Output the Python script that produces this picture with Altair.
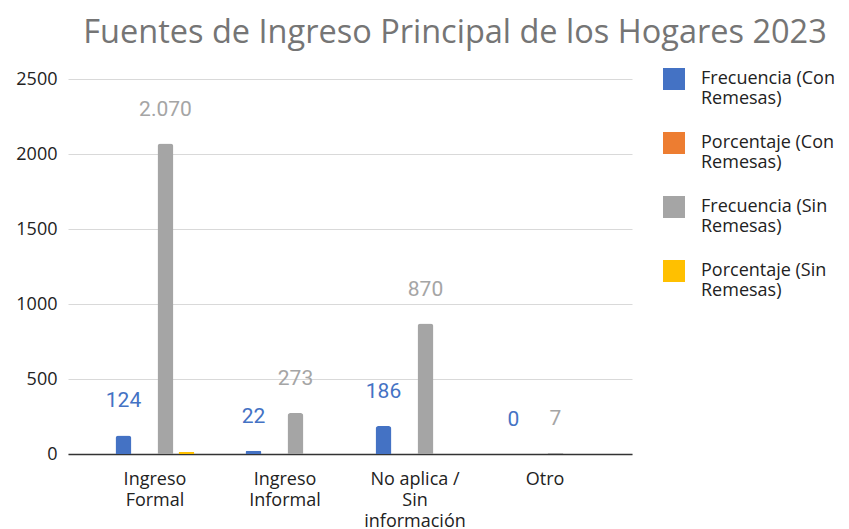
import altair as alt
import pandas as pd

categories = ["Ingreso Formal", "Ingreso Informal", "No aplica / Sin información", "Otro"]
series = ["Frecuencia (Con Remesas)", "Porcentaje (Con Remesas)",
          "Frecuencia (Sin Remesas)", "Porcentaje (Sin Remesas)"]
colors = ["#4472C4", "#ED7D31", "#A5A5A5", "#FFC000"]

freq_con = [124, 22, 186, 0]
pct_con = [0.37, 0.07, 0.56, 0.0]
freq_sin = [2070, 273, 870, 7]
pct_sin = [13, 0, 0, 0]

labels_con = ["124", "22", "186", "0"]
labels_sin = ["2.070", "273", "870", "7"]

rows = []
for i, c in enumerate(categories):
    rows.append({"cat": c, "serie": series[0], "valor": freq_con[i], "etiqueta": labels_con[i]})
    rows.append({"cat": c, "serie": series[1], "valor": pct_con[i], "etiqueta": ""})
    rows.append({"cat": c, "serie": series[2], "valor": freq_sin[i], "etiqueta": labels_sin[i]})
    rows.append({"cat": c, "serie": series[3], "valor": pct_sin[i], "etiqueta": ""})
df = pd.DataFrame(rows)

FONT = "Open Sans"

x = alt.X("cat:N", sort=categories, title=None,
          scale=alt.Scale(paddingInner=0.354, paddingOuter=0.346),
          axis=alt.Axis(
              labelAngle=0, labelFont=FONT, labelFontSize=18, labelColor="#222222",
              labelLineHeight=21, labelPadding=16, ticks=False,
              domainColor="#333333", domainWidth=1.5, labelLimit=200,
              labelExpr="datum.value == 'No aplica / Sin información' ? ['No aplica /', 'Sin', 'información'] : split(datum.value, ' ')"))
xo = alt.XOffset("serie:N", sort=series,
                 scale=alt.Scale(paddingInner=0.24, paddingOuter=0.12))
y = alt.Y("valor:Q", title=None,
          scale=alt.Scale(domain=[0, 2500]),
          axis=alt.Axis(values=[0, 500, 1000, 1500, 2000, 2500], format="d", labelFont=FONT,
                        labelFontSize=18, labelColor="#222222", ticks=False,
                        domain=False, labelPadding=11, gridColor="#D9D9D9"))

bars = alt.Chart(df).mark_bar(cornerRadiusTopLeft=3, cornerRadiusTopRight=3).encode(
    x=x, xOffset=xo, y=y,
    color=alt.Color("serie:N", sort=series, title=None,
                    scale=alt.Scale(domain=series, range=colors),
                    legend=alt.Legend(
                        orient="none", legendX=595, legendY=-11,
                        symbolType="square", symbolSize=484, symbolStrokeWidth=0,
                        symbolOpacity=1, labelFont=FONT, labelFontSize=18,
                        labelColor="#222222", labelOffset=16, labelLimit=220,
                        labelBaseline="middle", rowPadding=24, padding=0, offset=0,
                        labelExpr="[replace(datum.label, ' Remesas)', ''), 'Remesas)']")),
)

text = alt.Chart(df).mark_text(font="Roboto", fontSize=21, baseline="middle", dy=-34).encode(
    x=x, xOffset=xo, y=y,
    text="etiqueta:N",
    color=alt.Color("serie:N", sort=series, scale=alt.Scale(domain=series, range=colors), legend=None),
)

chart = alt.layer(bars, text).properties(
    width=564, height=375,
    title=alt.TitleParams("Fuentes de Ingreso Principal de los Hogares 2023",
                          font=FONT, fontSize=32.5, fontWeight="normal", color="#757575",
                          anchor="middle", frame="group", dx=105, offset=19),
    autosize=alt.AutoSizeParams(type="none"),
    padding={"left": 60, "top": 71, "right": 205, "bottom": 75},
).configure_view(stroke=None)

chart.save("out.html", embed_options={"renderer": "svg", "actions": False})
